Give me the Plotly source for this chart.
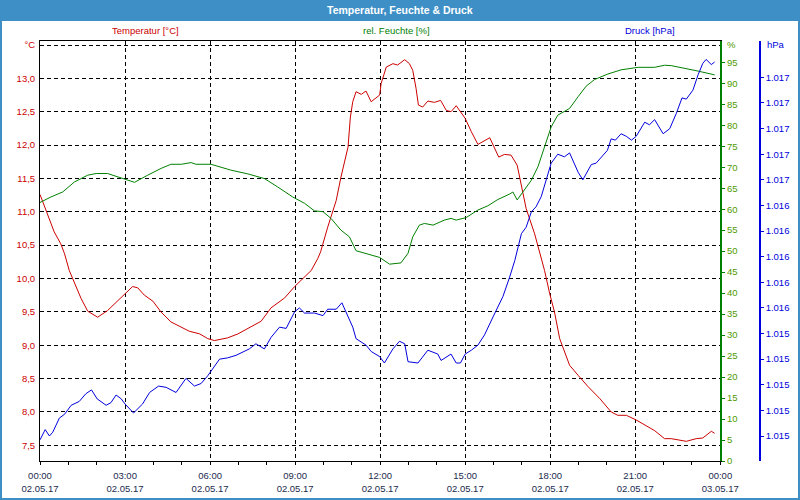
import plotly.graph_objects as go

# ---------------- data ----------------
temp_time = ["00:00","00:16","00:30","00:44","00:52","01:02","01:13","01:27","01:41","02:02","02:23","02:45","03:00","03:16","03:27","03:41","03:59","04:16","04:37","04:59","05:16","05:38","05:55","06:09","06:37","06:59","07:20","07:48","08:09","08:38","08:59","09:20","09:34","09:48","09:54","10:09","10:27","10:37","10:52","10:57","11:02","11:09","11:20","11:30","11:41","11:59","12:02","12:13","12:27","12:37","12:52","13:02","13:09","13:16","13:21","13:30","13:41","13:55","14:08","14:20","14:30","14:41","15:00","15:13","15:27","15:52","16:11","16:23","16:37","16:50","16:59","17:09","17:27","17:39","17:48","17:59","18:09","18:20","18:41","18:59","19:20","19:45","20:09","20:23","20:41","21:02","21:41","22:02","22:16","22:48","23:09","23:23","23:41","23:48"]
temp_vals = [11.26,10.97,10.70,10.52,10.37,10.12,9.93,9.70,9.51,9.42,9.52,9.67,9.78,9.88,9.86,9.75,9.66,9.50,9.35,9.27,9.21,9.17,9.10,9.07,9.11,9.17,9.25,9.36,9.56,9.71,9.88,10.02,10.12,10.30,10.40,10.77,11.17,11.52,11.97,12.42,12.65,12.80,12.76,12.81,12.65,12.75,12.92,13.17,13.22,13.20,13.28,13.22,13.12,12.85,12.60,12.57,12.66,12.64,12.67,12.52,12.50,12.59,12.40,12.20,12.01,12.11,11.82,11.86,11.85,11.70,11.37,11.05,10.67,10.37,10.12,9.77,9.50,9.10,8.70,8.55,8.38,8.20,8.00,7.95,7.95,7.88,7.72,7.60,7.60,7.56,7.60,7.61,7.71,7.68]

hum_time = ["00:00","00:23","00:48","01:13","01:41","01:59","02:23","02:45","03:00","03:20","03:48","04:16","04:37","04:59","05:20","05:30","06:02","06:44","07:20","07:55","08:23","08:55","09:20","09:41","09:59","10:16","10:37","10:55","11:09","11:34","11:59","12:20","12:44","12:59","13:09","13:23","13:34","13:52","14:16","14:30","14:41","15:02","15:27","15:48","16:09","16:34","16:41","16:50","17:02","17:20","17:34","17:48","18:02","18:16","18:41","18:59","19:16","19:34","20:02","20:30","21:06","21:41","22:02","22:16","22:45","23:13","23:48"]
hum_vals = [61.6,62.9,64.1,66.5,68.1,68.5,68.5,67.7,67.1,66.4,68.1,69.7,70.7,70.7,71.1,70.7,70.7,69.3,68.4,67.3,65.3,62.9,61.4,59.6,59.4,57.8,55.0,53.4,50.1,49.3,48.5,46.9,47.2,49.5,53.4,56.2,56.6,56.2,57.4,57.8,57.4,58.0,59.8,60.8,62.3,63.6,64.1,62.2,64.1,66.9,70.1,74.9,79.6,82.4,84.0,86.8,89.3,90.9,92.2,93.2,93.8,93.8,94.3,94.2,93.6,92.9,92.0]

pres_time = ["00:00","00:11","00:20","00:27","00:41","00:52","01:06","01:23","01:37","01:49","02:01","02:20","02:30","02:41","02:52","03:00","03:18","03:37","03:52","04:11","04:27","04:48","05:09","05:27","05:41","05:55","06:20","06:37","06:55","07:13","07:23","07:37","07:55","08:09","08:27","08:41","08:59","09:09","09:20","09:41","09:59","10:09","10:27","10:39","10:48","11:02","11:09","11:30","11:41","11:59","12:09","12:27","12:41","12:52","12:59","13:20","13:41","14:02","14:09","14:30","14:41","14:50","15:00","15:13","15:27","15:41","15:59","16:09","16:20","16:34","16:45","16:59","17:09","17:20","17:30","17:41","17:52","18:02","18:16","18:30","18:41","18:59","19:09","19:27","19:37","20:01","20:09","20:18","20:30","20:41","20:52","21:02","21:20","21:30","21:41","21:59","22:13","22:27","22:39","22:48","23:02","23:13","23:23","23:30","23:41","23:48"]
pres_vals = [1014.57,1014.65,1014.60,1014.63,1014.74,1014.77,1014.84,1014.87,1014.93,1014.96,1014.89,1014.84,1014.86,1014.92,1014.89,1014.85,1014.78,1014.85,1014.94,1014.99,1014.98,1014.94,1015.05,1014.99,1015.01,1015.07,1015.20,1015.21,1015.23,1015.26,1015.28,1015.32,1015.28,1015.37,1015.45,1015.44,1015.57,1015.60,1015.56,1015.56,1015.54,1015.59,1015.59,1015.64,1015.57,1015.45,1015.36,1015.31,1015.26,1015.22,1015.17,1015.28,1015.34,1015.32,1015.18,1015.17,1015.27,1015.24,1015.19,1015.24,1015.17,1015.17,1015.24,1015.27,1015.31,1015.39,1015.53,1015.61,1015.69,1015.84,1015.97,1016.18,1016.23,1016.35,1016.39,1016.47,1016.60,1016.73,1016.80,1016.78,1016.81,1016.66,1016.60,1016.72,1016.73,1016.83,1016.92,1016.91,1016.96,1016.94,1016.91,1016.94,1017.05,1017.03,1017.07,1016.96,1017.00,1017.12,1017.24,1017.23,1017.30,1017.42,1017.51,1017.54,1017.50,1017.52]

x_ticks = ["2017-05-02 00:00","2017-05-02 03:00","2017-05-02 06:00","2017-05-02 09:00","2017-05-02 12:00","2017-05-02 15:00","2017-05-02 18:00","2017-05-02 21:00","2017-05-03 00:00"]
x_time_labels = ["00:00","03:00","06:00","09:00","12:00","15:00","18:00","21:00","00:00"]
x_date_labels = ["02.05.17","02.05.17","02.05.17","02.05.17","02.05.17","02.05.17","02.05.17","02.05.17","03.05.17"]
x_minor = ["2017-05-02 %02d:00" % h for h in range(1, 24)]

temp_ticks = [7.5, 8.0, 8.5, 9.0, 9.5, 10.0, 10.5, 11.0, 11.5, 12.0, 12.5, 13.0, 13.5]
temp_labels = ["7,5","8,0","8,5","9,0","9,5","10,0","10,5","11,0","11,5","12,0","12,5","13,0","°C"]
hum_ticks = [0,5,10,15,20,25,30,35,40,45,50,55,60,65,70,75,80,85,90,95]
hum_labels = [str(v) for v in hum_ticks]
pres_ticks = [1014.6,1014.8,1015.0,1015.2,1015.4,1015.6,1015.8,1016.0,1016.2,1016.4,1016.6,1016.8,1017.0,1017.2,1017.4]
pres_labels = ["1.015"]*5 + ["1.016"]*5 + ["1.017"]*5

# ---------------- styling ----------------
W, H = 800, 500
ML, MR, MT, MB = 40, 40, 41, 39
PW, PH = W - ML - MR, H - MT - MB
def px_x(p):
    return (p - ML) / PW
def px_y(p):
    return (H - MB - p) / PH

FONT = "Liberation Sans"
FS = 9.5
RED = "#cc0000"
GREEN = "#008000"
BLUE = "#0000dd"
HUMTXT = "#4f9a00"
XTXT = "#1c2b4e"
BAR = "#3d8fc6"

def dt(t):
    return ["2017-05-02 " + s for s in t]

fig = go.Figure()
fig.add_trace(go.Scatter(x=dt(hum_time), y=hum_vals, mode="lines", yaxis="y2",
                         line=dict(color=GREEN, width=1), hoverinfo="skip"))
fig.add_trace(go.Scatter(x=dt(pres_time), y=pres_vals, mode="lines", yaxis="y3",
                         line=dict(color=BLUE, width=1), hoverinfo="skip"))
fig.add_trace(go.Scatter(x=dt(temp_time), y=temp_vals, mode="lines", yaxis="y",
                         line=dict(color=RED, width=1), hoverinfo="skip"))
# invisible trace to activate second x axis (date labels)
fig.add_trace(go.Scatter(x=[x_ticks[0]], y=[temp_ticks[0]], xaxis="x2", mode="markers",
                         marker=dict(opacity=0), hoverinfo="skip"))

xr = [x_ticks[0], x_ticks[-1]]
dom = [0, px_x(720.3)]

fig.update_layout(
    width=W, height=H,
    margin=dict(l=ML, r=MR, t=MT, b=MB, autoexpand=False),
    paper_bgcolor="white", plot_bgcolor="white",
    showlegend=False,
    font=dict(family=FONT, size=FS),
    xaxis=dict(type="date", range=xr, domain=dom, anchor="y",
               tickmode="array", tickvals=x_ticks, ticktext=x_time_labels,
               tickfont=dict(color=XTXT, size=FS, family=FONT),
               ticks="outside", ticklen=3, tickcolor="black",
               showline=True, linecolor="black", linewidth=1, mirror=True,
               showgrid=True, gridcolor="black", gridwidth=1, griddash="4px,3px",
               minor=dict(tickmode="array", tickvals=x_minor, ticks="outside",
                          ticklen=3, tickcolor="black", showgrid=False),
               zeroline=False, automargin=False, ticklabelstandoff=3),
    xaxis2=dict(type="date", range=xr, domain=dom, overlaying="x", anchor="y", side="bottom",
                tickmode="array", tickvals=x_ticks, ticktext=x_date_labels,
                tickfont=dict(color=XTXT, size=FS, family=FONT),
                ticks="", showline=False, showgrid=False, zeroline=False,
                automargin=False, ticklabelstandoff=20),
    yaxis=dict(range=[7.265, 13.56], tickmode="array", tickvals=temp_ticks, ticktext=temp_labels,
               tickfont=dict(color=RED, size=FS, family=FONT),
               ticks="", showline=True, linecolor="black", linewidth=1,
               showgrid=True, gridcolor="black", gridwidth=1, griddash="4px,3px",
               zeroline=False, automargin=False, ticklabelstandoff=2),
    yaxis2=dict(range=[0, 100.07], overlaying="y", side="right", anchor="x",
                tickmode="array", tickvals=hum_ticks, ticktext=hum_labels,
                tickfont=dict(color=HUMTXT, size=FS, family=FONT),
                ticks="outside", ticklen=3, tickcolor=GREEN,
                showline=True, linecolor=GREEN, linewidth=1.5,
                showgrid=False, zeroline=False, automargin=False),
    yaxis3=dict(range=[1014.405, 1017.684], overlaying="y", side="right", anchor="free",
                position=1.0, tickmode="array", tickvals=pres_ticks, ticktext=pres_labels,
                tickfont=dict(color=BLUE, size=FS, family=FONT),
                ticks="outside", ticklen=3, tickcolor=BLUE,
                showline=True, linecolor=BLUE, linewidth=1.5,
                showgrid=False, zeroline=False, automargin=False),
)

shapes = [
    # title bar
    dict(type="rect", xref="paper", yref="paper", x0=px_x(0), x1=px_x(800),
         y0=px_y(21), y1=px_y(0), fillcolor=BAR, line=dict(width=0), layer="below"),
    # window border
    dict(type="line", xref="paper", yref="paper", x0=px_x(1), x1=px_x(1), y0=px_y(500), y1=px_y(20),
         line=dict(color=BAR, width=2)),
    dict(type="line", xref="paper", yref="paper", x0=px_x(799), x1=px_x(799), y0=px_y(500), y1=px_y(20),
         line=dict(color=BAR, width=2)),
    dict(type="line", xref="paper", yref="paper", x0=px_x(0), x1=px_x(800), y0=px_y(499), y1=px_y(499),
         line=dict(color=BAR, width=2)),
]
fig.update_layout(shapes=shapes)

ann = [
    dict(text="<b>Temperatur, Feuchte & Druck</b>", x=px_x(400), y=px_y(10),
         font=dict(color="white", size=10.5, family=FONT)),
    dict(text="Temperatur [°C]", x=px_x(145), y=px_y(30), font=dict(color=RED, size=FS, family=FONT)),
    dict(text="rel. Feuchte [%]", x=px_x(396), y=px_y(30), font=dict(color=GREEN, size=FS, family=FONT)),
    dict(text="Druck [hPa]", x=px_x(650), y=px_y(30), font=dict(color=BLUE, size=FS, family=FONT)),
    dict(text="%", x=px_x(725), y=px_y(45), xanchor="left", font=dict(color=HUMTXT, size=FS, family=FONT)),
    dict(text="hPa", x=px_x(765), y=px_y(45), xanchor="left", font=dict(color=BLUE, size=FS, family=FONT)),
]
for a in ann:
    a.setdefault("xanchor", "center")
    a.update(xref="paper", yref="paper", yanchor="middle", showarrow=False)
fig.update_layout(annotations=ann)

fig.write_html("out.html", config={"displayModeBar": False},
               post_script="document.body.style.margin='0';document.body.style.overflow='hidden';")
